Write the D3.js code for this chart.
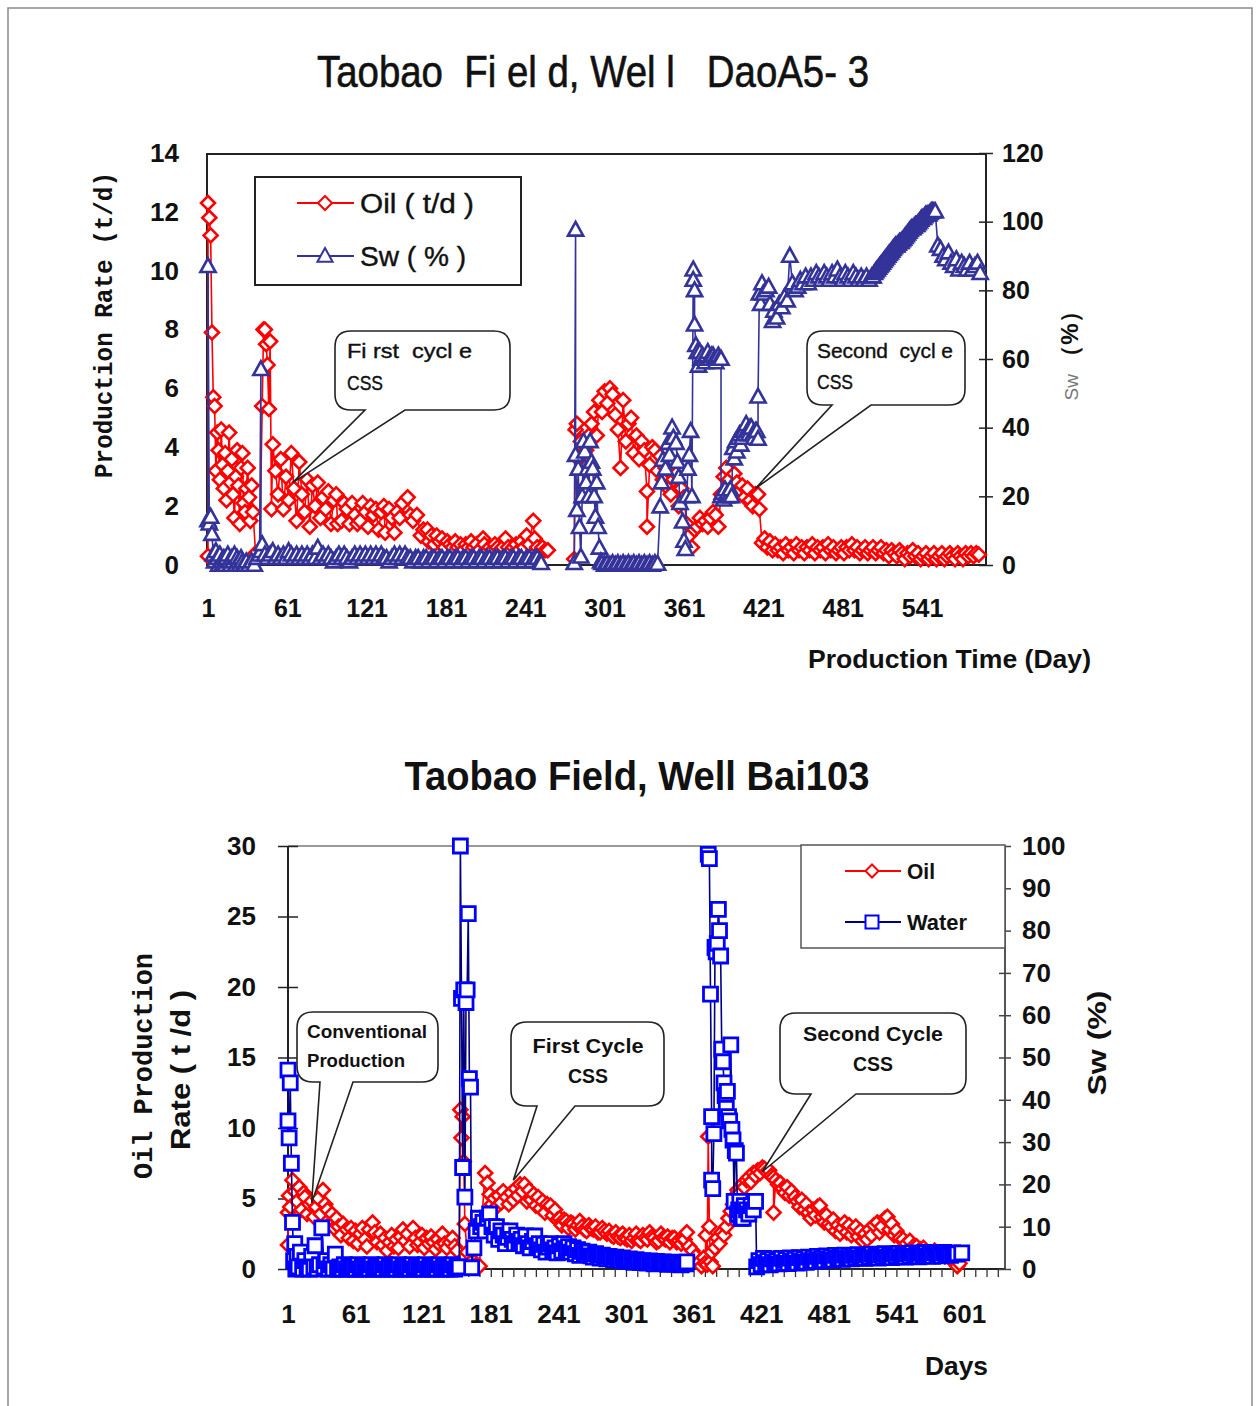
<!DOCTYPE html>
<html>
<head>
<meta charset="utf-8">
<script src="https://cdn.jsdelivr.net/npm/d3@7/dist/d3.min.js"></script>
<style>
  body { margin: 0; background: #fff; }
  svg text { font-family: "Liberation Sans", Arial, sans-serif; white-space: pre; }
</style>
</head>
<body>
<div id="chart"></div>
<script>
// ---------------- data: Well DaoA5-3 (top) ----------------
// [day, oil t/d]
var daoOil = [[1,0.3],[1,12.3],[2,11.8],[3,11.2],[4,7.9],[5,5.7],[6,5.4],[7,3.2],[8,4.5],[9,3.9],[10,2.9],[11,4.6],[12,3.4],[13,2.6],[14,3.8],[15,2.2],[16,3.2],[17,4.5],[18,2.8],[19,3.6],[20,2.4],[21,1.6],[22,3.0],[23,3.9],[24,2.7],[25,1.4],[26,3.3],[27,3.8],[28,2.1],[29,1.8],[30,2.6],[31,3.3],[32,2.3],[33,1.5],[34,2.7],[35,1.8],[37,0.4],[40,0.3],
  [42,5.4],[43,8.0],[44,8.0],[45,7.5],[46,6.8],[47,5.3],[48,7.6],[49,1.9],[50,4.1],[52,3.2],[54,2.4],[56,3.6],[58,1.9],[60,3.0],[62,2.2],[64,3.8],[66,2.6],[68,1.5],[70,3.5],[72,2.4],[74,1.8],[76,2.9],[78,1.3],[80,2.7],[82,2.0],[84,2.8],[86,1.6],[88,2.3],[90,1.9],[92,2.5],[94,1.4],[96,2.2],[98,2.4],[99,1.4],[102,1.5],[104,2.1],[106,1.9],[108,1.4],[110,2.1],[112,1.7],[114,1.4],[116,1.5],[118,2.1],[120,1.8],[122,1.3],[124,2.0],[126,1.7],[128,1.9],[130,1.2],[132,1.8],[134,2.0],[135,1.1],[138,1.9],[140,1.6],[142,1.1],[144,1.8],[146,1.6],[148,2.1],[152,2.3],[154,1.7],[156,1.5],[159,1.7],[162,1.0],[164,1.2],[167,1.2],[168,0.8],[170,1.0],[172,0.7],[174,1.0],[176,0.8],[178,0.9],[180,0.6],[182,0.8],[184,0.7],[186,0.6],[188,0.8],[190,0.6],[192,0.7],[194,0.5],[196,0.7],[198,0.6],[200,0.8],[202,0.6],[204,0.7],[206,0.5],[209,0.9],[210,0.7],[212,0.5],[214,0.6],[216,0.5],[218,0.7],[220,0.6],[222,0.5],[224,0.6],[226,0.9],[228,0.6],[230,0.5],[232,0.6],[234,0.7],[236,0.5],[238,0.8],[240,0.6],[242,1.0],[244,0.7],[247,1.5],[248,0.9],[250,0.6],[252,0.4],[254,0.6],[256,0.5],[258,0.5],[268,null],
  [278,0.2],[279,4.6],[280,4.8],[281,3.6],[283,4.2],[285,2.6],[287,3.9],[289,4.4],[291,4.8],[293,5.2],[295,4.4],[297,5.6],[299,5.2],[301,5.9],[303,5.5],[305,6.0],[307,5.8],[309,5.1],[311,4.6],[313,3.3],[315,5.6],[317,4.2],[319,4.8],[321,5.0],[323,3.8],[325,4.4],[327,3.6],[329,4.2],[331,3.9],[333,2.5],[333,1.3],[335,3.4],[337,4.0],[339,3.9],[341,3.2],[343,3.7],[345,2.9],[347,3.3],[349,2.6],[351,2.4],[353,2.9],[355,3.1],[357,2.0],[359,2.6],[361,2.3],[363,1.4],[365,1.0],[367,0.6],[369,1.2],[371,1.3],[373,1.6],[375,1.4],[377,1.5],[379,1.3],[381,1.6],[383,1.8],[385,1.7],[387,1.3],[389,2.4],[391,3.0],[393,3.3],[395,2.9],[397,2.6],[399,3.1],[401,2.8],[403,2.5],[405,2.7],[407,2.3],[409,2.6],[411,2.2],[413,2.0],[415,2.4],[417,2.4],[418,1.9],
  [420,0.75],[422,0.9],[424,0.6],[426,0.8],[428,0.5],[430,0.7],[432,0.5],[434,0.6],[436,0.4],[438,0.7],[440,0.5],[442,0.6],[444,0.4],[446,0.7],[448,0.5],[450,0.6],[452,0.4],[454,0.6],[456,0.5],[458,0.7],[460,0.4],[462,0.6],[464,0.5],[466,0.6],[468,0.4],[470,0.7],[472,0.5],[474,0.6],[476,0.4],[478,0.5],[480,0.6],[482,0.4],[484,0.6],[486,0.5],[488,0.7],[490,0.5],[492,0.6],[494,0.4],[496,0.5],[498,0.6],[500,0.4],[502,0.5],[504,0.6],[506,0.4],[508,0.5],[510,0.6],[512,0.4],[514,0.5],[516,0.3],[518,0.5],[520,0.4],[522,0.3],[524,0.5],[526,0.4],[528,0.2],[530,0.4],[532,0.3],[534,0.5],[536,0.3],[538,0.4],[540,0.2],[542,0.3],[544,0.4],[546,0.2],[548,0.3],[550,0.4],[552,0.2],[554,0.3],[556,0.4],[558,0.2],[560,0.3],[562,0.4],[564,0.3],[566,0.2],[568,0.4],[570,0.3],[572,0.2],[574,0.4],[576,0.3],[578,0.4],[580,0.3],[582,0.4],[584,0.35]];

// [day, Sw %]
var daoSw = [[1,13],[1,87],[2,12],[3,14],[4,9],[5,3],[6,1],[7,4],[8,2],[9,0],[10,3],[11,1],[12,0],[13,2],[14,0],[15,2],[16,3],[17,1],[18,0],[19,2],[20,1],[21,3],[22,0],[23,2],[24,1],[25,0],[26,2],[27,1],[28,0],[29,0],[30,1],[32,0],[34,1],[36,0],[38,2],[40,3],[41,57],[41,4],
  [42,6],[44,3],[46,2],[48,3],[50,4],[52,2],[54,3],[56,2],[58,3],[60,2],[62,4],[64,3],[66,2],[68,3],[70,2],[72,3],[74,2],[76,3],[78,2],[80,3],[82,2],[84,5],[86,2],[88,3],[90,2],[92,3],[94,2],[96,1],[98,2],[100,3],[102,2],[104,3],[106,2],[108,1],[110,2],[112,3],[114,2],[116,3],[118,2],[120,3],[122,2],[124,3],[126,2],[128,3],[130,2],[132,3],[134,2],[136,2],[138,1],[140,2],[142,3],[144,2],[146,3],[148,2],[150,3],[152,2],[154,2],[156,1],[158,2],[160,2],[162,1],[164,2],[166,2],[168,1],[170,2],[172,2],[174,1],[176,2],[178,2],[180,1],[182,2],[184,2],[186,1],[188,2],[190,2],[192,1],[194,2],[196,2],[198,1],[200,2],[202,2],[204,1],[206,2],[208,2],[210,1],[212,2],[214,2],[216,1],[218,2],[220,2],[222,1],[224,2],[226,2],[228,1],[230,2],[232,2],[234,1],[236,2],[238,2],[240,1],[242,2],[244,2],[246,1],[248,2],[250,2],[252,1],[253,0.5],[266,null],
  [278,0.5],[279,97.6],[279,32],[280,16],[281,28],[282,11],[283,2.4],[284,20],[285,36],[286,33],[287,24],[288,28],[289,20],[290,36],[291,30],[292,28],[293,20],[294,14],[295,24],[296,11],[297,5],[298,1],[299,0.5],[301,0],[303,0.5],[305,0],[307,0.5],[309,0],[311,0.5],[313,0],[315,0.5],[317,0],[319,0.5],[321,0],[323,0.5],[325,0],[327,0.5],[329,0],[331,0.5],[333,0],[335,0.5],[337,0],[339,0.5],[341,0.3],[343,17],[344,24],[345,30.6],[347,28],[349,35.5],[350,32],[352,40],[353,37],[355,35.5],[356,30],[357,25.6],[358,18],[360,12.6],[361,7],[362,4.6],[363,20],[364,28],[365,32],[366,39],[367,20],[368,86],[368,83],[369,80],[369,70],[370,64],[371,62],[372,58],[373,62],[374,60],[375,61],[376,60],[377,59],[378,61],[379,62],[380,60],[381,60],[382,61],[383,61],[384,60],[385,59],[386,60],[387,61],[388,60],[389,60],[389,20],[390,21],[391,19],[392,22],[393,20],[394,21],[395,20],[396,22],[397,20],[398,34],[399,31],[400,36],[401,33],[402,37],[403,38],[404,35],[405,37],[406,39],[407,38],[408,41],[409,39],[410,38],[411,40],[412,40],[413,38],[414,37],[415,39],[416,39],[417,36.7],[417,49],[418,79],[419,76],[420,82],[421,79],[423,80],[425,81],[426,76],[428,71],[429,74],[431,72],[433,76],[435,75],[437,78],[439,77],[441,90],[443,82],[445,80],[447,81],[449,83],[451,82],[453,84],[455,82],[457,84],[459,83],[461,85],[463,84],[465,83],[467,85],[469,84],[471,83],[473,85],[475,84],[477,86],[479,84],[481,83],[483,85],[485,84],[487,83],[489,85],[491,84],[493,83],[495,84],[497,83],[499,84],[501,83],[503,84],[504,84],[505,85],[506,85.5],[507,86],[508,86.5],[509,87],[510,87.5],[511,88],[512,88.5],[513,89],[514,89.5],[515,90],[516,90.5],[517,91],[518,91.5],[519,92],[520,92.5],[521,93],[522,93],[523,93.5],[524,94],[525,94],[526,94.5],[527,95],[528,95.5],[529,96],[530,96.5],[531,97],[532,97.5],[533,98],[534,98],[535,98.5],[536,99],[537,99],[538,99.5],[539,100],[540,100.5],[541,101],[542,101],[543,101.5],[544,102],[545,102],[546,102],[547,102.5],[548,103],[549,103],[550,103],[551,103],[553,93],[555,92],[557,90],[559,89],[561,91],[563,88],[565,87],[567,89],[569,86],[571,88],[573,87],[575,86],[577,88],[579,86],[581,87],[583,88],[585,85]];

var daoDayTicks = [1, 61, 121, 181, 241, 301, 361, 421, 481, 541];
var daoOilTicks = [0, 2, 4, 6, 8, 10, 12, 14];
var daoSwTicks = [0, 20, 40, 60, 80, 100, 120];

// ---------------- data: Well Bai103 (bottom) ----------------
// [day, oil t/d]
var baiOil = [[1,1.7],[1,4.0],[2,5.2],[3,4.4],[5,6.3],[7,5.5],[9,4.8],[11,5.8],[13,4.2],[15,5.4],[16,5.1],[18,3.9],[20,4.6],[22,4.8],[24,3.7],[26,4.4],[28,5.0],[30,3.9],[32,5.6],[34,4.6],[36,4.2],[38,3.2],[40,3.9],[42,2.9],[44,3.6],[46,3.0],[48,2.4],[50,3.2],[53,2.8],[55,2.2],[57,2.9],[59,2.0],[61,2.7],[63,1.8],[65,2.5],[67,2.9],[69,2.1],[71,1.6],[73,2.8],[76,3.3],[78,2.6],[80,1.9],[83,2.5],[85,1.7],[87,2.2],[89,1.3],[91,1.9],[93,2.4],[95,1.6],[97,2.1],[99,1.5],[101,2.3],[103,2.8],[105,2.0],[107,2.5],[109,1.6],[112,2.9],[114,2.2],[116,1.7],[118,1.9],[120,2.4],[122,1.5],[124,2.2],[126,1.8],[128,2.3],[130,1.9],[132,1.4],[134,2.1],[136,1.7],[138,2.5],[140,1.8],[142,1.5],[145,1.9],[147,2.2],[149,1.6],[151,1.3],[153,0.1],[154,11.3],[155,9.3],[156,10.8],[157,7.6],[158,3.2],[160,1.2],[162,0.4],[165,0.6],[168,0.3],[171,0.2],[173,3.5],[176,6.8],[178,6.1],[180,5.3],[182,4.6],[184,5.0],[186,4.4],[188,5.2],[190,4.7],[192,5.5],[195,5.1],[197,4.6],[199,5.4],[201,4.9],[203,5.7],[205,5.2],[207,6.0],[209,5.5],[211,6.0],[213,4.8],[215,5.6],[217,4.9],[219,5.3],[221,4.5],[223,5.1],[225,4.3],[227,4.8],[229,4.0],[231,4.6],[234,4.5],[236,3.8],[238,4.2],[240,3.5],
  [242,3.6],[244,3.1],[246,3.5],[248,3.4],[250,2.9],[252,3.3],[254,3.2],[256,2.8],[258,3.1],[260,3.4],[262,3.0],[264,2.8],[266,2.7],[268,3.1],[270,2.9],[272,2.8],[274,3.0],[276,2.6],[278,2.6],[280,2.9],[282,2.7],[284,2.5],[286,2.7],[288,2.4],[290,2.3],[292,2.6],[294,2.3],[296,2.2],[298,2.5],[300,2.2],[302,2.1],[304,2.4],[306,2.0],[308,2.2],[310,2.5],[312,2.1],[314,2.0],[316,2.4],[318,2.2],[320,2.1],[322,2.6],[324,2.3],[326,2.2],[328,1.9],[330,2.0],[332,2.5],[334,2.2],[336,2.1],[338,2.3],[340,1.9],[342,2.2],[344,2.2],[346,1.9],[348,2.0],[350,1.8],[352,2.1],[353,2.1],[355,2.6],
  [357,1.6],[360,1.3],[363,0.9],[366,0.5],[368,0.2],[370,0.8],[371,0.4],[372,2.4],[373,0.3],[374,9.4],[375,3.0],[376,0.5],[377,1.2],[378,0.2],[380,1.5],[382,2.2],[384,1.8],[386,2.6],[388,2.4],[390,3.0],[392,3.6],[394,4.1],[396,4.6],[398,5.2],[400,5.6],[402,5.4],[404,6.0],[406,5.8],[408,6.3],[410,6.5],[412,6.2],[414,6.8],[416,6.6],[418,7.0],[420,6.8],[422,7.2],[424,7.1],[426,6.9],[428,7.0],[430,6.6],[432,6.5],[432,4.0],[434,6.3],[436,6.0],[438,6.1],[440,5.7],[442,5.4],[444,5.8],[446,5.2],[448,5.5],[451,5.1],[453,4.8],[455,4.4],[457,4.9],[459,4.2],[461,4.6],[463,4.0],[465,3.6],[467,4.2],[469,3.8],[471,4.4],[473,4.5],[475,3.7],[477,3.3],[479,3.8],[481,3.2],[483,3.0],[485,3.5],[487,2.7],[489,3.1],[491,2.5],[493,2.9],[495,3.3],[497,2.6],[499,3.1],[501,2.4],[503,2.8],[505,3.0],[507,2.3],[509,2.7],[511,2.0],[513,2.5],[515,2.1],[517,2.8],[519,2.4],[521,3.1],[524,3.3],[526,2.6],[528,3.0],[531,3.6],[533,3.7],[535,2.8],[537,3.2],[539,2.4],[541,2.7],[544,2.2],[547,2.1],[550,1.8],[553,2.0],[556,1.6],[559,1.6],[562,1.4],[565,1.5],[568,1.2],[572,1.1],[575,1.3],[578,1.0],[581,1.1],[584,0.9],[588,0.8],[591,0.6],[595,0.2],[597,0.4]];

// [day, Sw %]
var baiWater = [[1,47],[1,35],[2,31],[3,44],[4,25],[5,11],[6,2],[7,6],[8,0],[9,3],[10,0.5],[12,4],[14,0],[16,2],[18,0.5],[20,0],[22,3],[24,0.5],[25,5.5],[27,0],[29,1],[31,9.7],[33,0.5],[35,2],[37,0],[39,1],[41,0],[43,3.5],
  [45,0],[47,0.5],[49,0],[51,1],[53,0],[55,0.5],[57,0],[59,0.5],[61,0],[63,1],[65,0],[67,0.5],[69,0],[71,0.5],[73,0],[75,1],[77,0],[79,0.5],[81,0],[83,0.5],[85,0],[87,1],[89,0],[91,0.5],[93,0],[95,0.5],[97,0],[99,1],[101,0],[103,0.5],[105,0],[107,0.5],[109,0],[111,1],[113,0],[115,0.5],[117,0],[119,0.5],[121,0],[123,1],[125,0],[127,0.5],[129,0],[131,0.5],[133,0],[135,1],[137,0],[139,0.5],[141,0],[143,0.5],[145,0],[147,1],[149,0],[151,0.5],[153,0.5],
  [154,100],[155,64],[156,24],[157,66],[158,17],[159,63],[160,66],[161,84],[162,45],[163,43],[164,0.3],[166,5],[168,9],[170,12],[172,10],[174,11],[176,9],[178,12],[180,13],[182,10],[184,8],[186,10],[188,7],[190,9],[192,8],[194,6],[196,7.5],[198,9],[200,7],[202,6],[204,8],[206,6.5],[208,7],[210,5.5],[212,7.8],[214,6],[216,5],[218,6.5],[220,7.8],[222,5.5],[224,6],[226,4.5],[228,5.8],[230,4],[232,5.2],[234,6],[236,4.5],[238,5],[240,3.8],[242,5.5],[244,4.2],[246,6],[248,4.8],[250,5.3],[252,4],[254,5],
  [256,3.6],[258,4.6],[260,3.2],[262,4.2],[264,3.6],[266,3.4],[268,4],[270,3.1],[272,2.8],[274,3.6],[276,3.0],[278,2.6],[280,3.3],[282,2.8],[284,2.4],[286,3],[288,2.5],[290,2.2],[292,2.8],[294,2.3],[296,2],[298,2.6],[300,2.1],[302,1.8],[304,2.4],[306,1.9],[308,1.6],[310,2.2],[312,1.8],[314,1.5],[316,2],[318,1.6],[320,1.4],[322,1.9],[324,1.5],[326,1.2],[328,1.8],[330,1.4],[332,1.3],[334,1.7],[336,1.3],[338,1.1],[340,1.6],[342,1.2],[344,1.2],[346,1.5],[348,1.1],[350,1],[352,1.4],[354,1.2],[355,1.7],[364,null],
  [374,98],[375,97],[376,65],[377,36],[377,21],[378,19],[379,32],[380,76],[381,75],[382,77],[383,85],[384,80],[385,74],[386,52],[387,49],[388,44],[389,41],[390,38],[391,42],[392,36],[393,35],[394,53],[395,33],[396,30.5],[397,16],[398,28],[399,27.4],[400,13],[401,14],[402,16],[403,12],[404,14],[405,12],[406,15],[408,14],[410,13],[412,15],[414,14],[416,16],[417,0.5],[419,2],[421,1],[423,2.5],[425,1.5],[427,2],[429,1],[431,2.4],[433,1.6],[435,2],[437,1.2],[439,2.5],[441,1.5],[443,2.2],[445,1.3],[447,2.6],[449,1.8],[451,2.3],[453,1.4],[455,2.7],[457,1.9],[459,2.4],[461,1.6],[463,2.8],[465,2],[467,2.5],[469,1.8],[471,3],[473,2.2],[475,2.6],[477,2],[479,3.1],[481,2.4],[483,2.8],[485,2.1],[487,3.2],[489,2.5],[491,2.9],[493,2.3],[495,3.3],[497,2.6],[499,3],[501,2.4],[503,3.2],[505,2.7],[507,3.4],[509,2.6],[511,3],[513,2.5],[515,3.3],[517,2.8],[519,3.5],[521,2.7],[523,3.1],[525,2.6],[527,3.4],[529,2.9],[531,3.6],[533,2.8],[535,3.2],[537,2.7],[539,3.5],[541,3],[543,3.7],[545,2.9],[547,3.3],[549,2.8],[551,3.6],[553,3.1],[555,3.8],[557,3],[559,3.4],[561,2.9],[563,3.7],[565,3.2],[567,3.9],[569,3.1],[571,3.5],[573,3],[575,3.8],[577,3.3],[579,3.6],[581,3.1],[583,3.9],[585,3.4],[587,3.7],[589,3.2],[591,3.8],[593,3.5],[595,3.6],[599,3.8]];

var baiDayTicks = [1, 61, 121, 181, 241, 301, 361, 421, 481, 541, 601];
var baiOilTicks = [0, 5, 10, 15, 20, 25, 30];
var baiSwTicks = [0, 10, 20, 30, 40, 50, 60, 70, 80, 90, 100];

// ---------------- page ----------------
var svg = d3.select("#chart")
  .append("svg")
    .attr("width", 1260)
    .attr("height", 1406);

// outer frame
svg.append("rect")
  .attr("x", 8).attr("y", 8).attr("width", 1244).attr("height", 1420)
  .attr("fill", "none").attr("stroke", "#8a8a8a").attr("stroke-width", 1.5);

// marker shapes
function diamond(r) { return "M0," + (-r) + "L" + r + ",0L0," + r + "L" + (-r) + ",0Z"; }
function triangle(r) { return "M0," + (-r) + "L" + (r * 0.95) + "," + (r * 0.72) + "L" + (-r * 0.95) + "," + (r * 0.72) + "Z"; }
function square(r) { return "M" + (-r) + "," + (-r) + "H" + r + "V" + r + "H" + (-r) + "Z"; }

function drawSeries(g, data, x, y, lineColor, markColor, shape, lw, mw) {
  var line = d3.line()
    .defined(function(d) { return d[1] != null; })
    .x(function(d) { return x(d[0]); })
    .y(function(d) { return y(d[1]); });
  g.append("path")
    .datum(data)
    .attr("d", line)
    .attr("fill", "none")
    .attr("stroke", lineColor)
    .attr("stroke-width", lw)
    .attr("stroke-linejoin", "round");
  g.append("g")
    .selectAll("path")
    .data(data.filter(function(d) { return d[1] != null; }))
    .enter()
    .append("path")
      .attr("d", shape)
      .attr("transform", function(d) { return "translate(" + x(d[0]) + "," + y(d[1]) + ")"; })
      .attr("fill", "#fff")
      .attr("stroke", markColor)
      .attr("stroke-width", mw);
}

// callout with a wedge pointing at a data point
function callout(g, box, baseL, baseR, tip) {
  var x0 = box[0], y0 = box[1], x1 = box[2], y1 = box[3], r = 16;
  var p = "M" + (x0 + r) + "," + y0 + "H" + (x1 - r) + "Q" + x1 + "," + y0 + " " + x1 + "," + (y0 + r) +
    "V" + (y1 - r) + "Q" + x1 + "," + y1 + " " + (x1 - r) + "," + y1 +
    "H" + baseR + "L" + tip[0] + "," + tip[1] + "L" + baseL + "," + y1 +
    "H" + (x0 + r) + "Q" + x0 + "," + y1 + " " + x0 + "," + (y1 - r) +
    "V" + (y0 + r) + "Q" + x0 + "," + y0 + " " + (x0 + r) + "," + y0 + "Z";
  g.append("path").attr("d", p)
    .attr("fill", "#fff").attr("stroke", "#222").attr("stroke-width", 1.6);
}

function label(g, txt, x, y, size, weight, len, anchor, rot, family, fill) {
  var t = g.append("text")
    .attr("x", x).attr("y", y)
    .attr("font-size", size)
    .attr("font-weight", weight)
    .attr("text-anchor", anchor || "start")
    .attr("fill", fill || "#111")
    .text(txt);
  if (family) t.style("font-family", family);
  if (len) t.attr("textLength", len).attr("lengthAdjust", "spacingAndGlyphs");
  if (rot) t.attr("transform", "rotate(" + rot + "," + x + "," + y + ")");
  return t;
}

function styleAxisText(ax, size) {
  ax.select(".domain").remove();
  ax.selectAll("text")
    .attr("font-size", size)
    .attr("font-weight", "bold")
    .attr("fill", "#111")
    .style("font-family", "'Liberation Sans', Arial, sans-serif");
}

// =================== TOP: DaoA5-3 ===================
var daoG = svg.append("g");
var tx = d3.scaleLinear().domain([1, 541]).range([208, 922]);
var tyOil = d3.scaleLinear().domain([0, 14]).range([565, 153]);
var tySw = d3.scaleLinear().domain([0, 120]).range([565, 153]);

label(daoG, "Taobao  Fi el d, Wel l   DaoA5- 3", 593, 87, 44, "normal", 552, "middle")
  .attr("stroke", "#111").attr("stroke-width", 0.6);

// frame
daoG.append("rect")
  .attr("x", 207).attr("y", 154).attr("width", 779).attr("height", 411)
  .attr("fill", "none").attr("stroke", "#222").attr("stroke-width", 2);

// left axis labels
var tLeft = daoG.append("g").attr("transform", "translate(207,0)")
  .call(d3.axisLeft(tyOil).tickValues(daoOilTicks).tickSize(0).tickPadding(28));
styleAxisText(tLeft, 26);

// right axis with crossing ticks
var tRight = daoG.append("g").attr("transform", "translate(986,0)")
  .call(d3.axisRight(tySw).tickValues(daoSwTicks).tickSize(7).tickPadding(9));
styleAxisText(tRight, 25);
tRight.selectAll(".tick line").attr("x1", -7).attr("stroke", "#222").attr("stroke-width", 1.5);

// bottom labels
var tBottom = daoG.append("g").attr("transform", "translate(0,565)")
  .call(d3.axisBottom(tx).tickValues(daoDayTicks).tickSize(0).tickPadding(34));
styleAxisText(tBottom, 25);

// series
drawSeries(daoG.append("g"), daoOil, tx, tyOil, "#ff0000", "#ff0000", diamond(7), 1.6, 2.6);
drawSeries(daoG.append("g"), daoSw, tx, tySw, "#333399", "#333399", triangle(8), 1.6, 2.6);

// axis titles
label(daoG, "Production Rate (t/d)", 112, 325, 26, "bold", 306, "middle", -90, "'Liberation Mono', 'Courier New', monospace");
var swLab = daoG.append("text")
  .attr("x", 1078).attr("y", 350)
  .attr("text-anchor", "middle")
  .attr("transform", "rotate(-90,1078,350)");
swLab.append("tspan").attr("font-size", 19).attr("fill", "#777").text("Sw ");
swLab.append("tspan").attr("font-size", 24).attr("font-weight", "bold").attr("fill", "#111").text("（%）");
label(daoG, "Production Time (Day)", 808, 668, 26, "bold", 283, "start");

// legend
daoG.append("rect")
  .attr("x", 255).attr("y", 177).attr("width", 266).attr("height", 108)
  .attr("fill", "#fff").attr("stroke", "#222").attr("stroke-width", 2);
var tLeg = [
  {name: "Oil ( t/d )", y: 203, color: "#ff0000", shape: diamond(7), len: 114},
  {name: "Sw ( % )", y: 256, color: "#333399", shape: triangle(8), len: 106}
];
tLeg.forEach(function(d) {
  daoG.append("line").attr("x1", 297).attr("x2", 354).attr("y1", d.y).attr("y2", d.y)
    .attr("stroke", d.color).attr("stroke-width", 2);
  daoG.append("path").attr("d", d.shape).attr("transform", "translate(325," + d.y + ")")
    .attr("fill", "#fff").attr("stroke", d.color).attr("stroke-width", 2);
  label(daoG, d.name, 360, d.y + 10, 27, "normal", d.len, "start")
    .attr("stroke", "#111").attr("stroke-width", 0.4);
});

// callouts
callout(daoG, [335, 331, 510, 410], 365, 405, [tx(65), tyOil(2.8)]);
label(daoG, "Fi rst  cycl e", 347, 358, 21, "normal", 125, "start").attr("stroke", "#111").attr("stroke-width", 0.4);
label(daoG, "CSS", 347, 390, 21, "normal", 36, "start").attr("stroke", "#111").attr("stroke-width", 0.4);
callout(daoG, [807, 331, 965, 405], 832, 871, [tx(415), tyOil(2.6)]);
label(daoG, "Second  cycl e", 817, 358, 21, "normal", 136, "start").attr("stroke", "#111").attr("stroke-width", 0.4);
label(daoG, "CSS", 817, 389, 21, "normal", 36, "start").attr("stroke", "#111").attr("stroke-width", 0.4);

// =================== BOTTOM: Bai103 ===================
var baiG = svg.append("g");
var bx = d3.scaleLinear().domain([1, 601]).range([288, 964]);
var byOil = d3.scaleLinear().domain([0, 30]).range([1269, 846]);
var bySw = d3.scaleLinear().domain([0, 100]).range([1269, 846]);

label(baiG, "Taobao Field, Well Bai103", 637, 790, 40, "bold", 465, "middle");

// frame: top and right in grey, left and bottom black
baiG.append("line").attr("x1", 288).attr("x2", 1005).attr("y1", 846).attr("y2", 846)
  .attr("stroke", "#777").attr("stroke-width", 1.5);
baiG.append("line").attr("x1", 1005).attr("x2", 1005).attr("y1", 846).attr("y2", 1269)
  .attr("stroke", "#555").attr("stroke-width", 2);
baiG.append("line").attr("x1", 288).attr("x2", 288).attr("y1", 846).attr("y2", 1269)
  .attr("stroke", "#222").attr("stroke-width", 2);
baiG.append("line").attr("x1", 288).attr("x2", 1005).attr("y1", 1269).attr("y2", 1269)
  .attr("stroke", "#222").attr("stroke-width", 2);

// left axis, crossing ticks
var bLeft = baiG.append("g").attr("transform", "translate(288,0)")
  .call(d3.axisLeft(byOil).tickValues(baiOilTicks).tickSize(10).tickPadding(22));
styleAxisText(bLeft, 26);
bLeft.selectAll(".tick line").attr("x1", 10).attr("stroke", "#222").attr("stroke-width", 1.5);

// right axis
var bRight = baiG.append("g").attr("transform", "translate(1005,0)")
  .call(d3.axisRight(bySw).tickValues(baiSwTicks).tickSize(6).tickPadding(11));
styleAxisText(bRight, 26);
bRight.selectAll(".tick line").attr("x1", -6).attr("stroke", "#444").attr("stroke-width", 1.5);

// bottom minor ticks every 10 days, then labels
var bTicks = baiG.append("g").attr("transform", "translate(0,1269)")
  .call(d3.axisBottom(bx).tickValues(d3.range(1, 632, 10)).tickSize(8).tickFormat(""));
bTicks.select(".domain").remove();
bTicks.selectAll(".tick line").attr("stroke", "#333").attr("stroke-width", 1.3);
var bBottom = baiG.append("g").attr("transform", "translate(0,1269)")
  .call(d3.axisBottom(bx).tickValues(baiDayTicks).tickSize(0).tickPadding(36));
styleAxisText(bBottom, 26);

// series
drawSeries(baiG.append("g"), baiOil, bx, byOil, "#ff0000", "#ff0000", diamond(7), 1.6, 2.6);
drawSeries(baiG.append("g"), baiWater, bx, bySw, "#000080", "#0000ff", square(7), 1.6, 2.8);

// axis titles
label(baiG, "Oil Production", 152, 1066, 27, "bold", 226, "middle", -90, "'Liberation Mono', 'Courier New', monospace");
label(baiG, "Rate ( t /d )", 190, 1070, 27, "bold", 160, "middle", -90);
label(baiG, "Sw (%)", 1106, 1043, 26, "bold", 105, "middle", -90);
label(baiG, "Days", 925, 1375, 26, "bold", 63, "start");

// legend
baiG.append("rect")
  .attr("x", 801).attr("y", 845).attr("width", 204).attr("height", 103)
  .attr("fill", "#fff").attr("stroke", "#555").attr("stroke-width", 1.5);
var bLeg = [
  {name: "Oil", y: 871, line: "#ff0000", mark: "#ff0000", shape: diamond(6.5), len: 28},
  {name: "Water", y: 922, line: "#000080", mark: "#0000ff", shape: square(6.5), len: 60}
];
bLeg.forEach(function(d) {
  baiG.append("line").attr("x1", 845).attr("x2", 901).attr("y1", d.y).attr("y2", d.y)
    .attr("stroke", d.line).attr("stroke-width", 2);
  baiG.append("path").attr("d", d.shape).attr("transform", "translate(872," + d.y + ")")
    .attr("fill", "#fff").attr("stroke", d.mark).attr("stroke-width", 2);
  label(baiG, d.name, 907, d.y + 8, 22, "bold", d.len, "start");
});

// callouts
callout(baiG, [297, 1012, 438, 1082], 320, 353, [bx(22), byOil(4.7)]);
label(baiG, "Conventional", 307, 1038, 19, "bold", 120, "start");
label(baiG, "Production", 307, 1067, 19, "bold", 98, "start");
callout(baiG, [511, 1022, 664, 1106], 537, 575, [bx(201), byOil(6.3)]);
label(baiG, "First Cycle", 588, 1053, 21, "bold", 111, "middle");
label(baiG, "CSS", 588, 1083, 21, "bold", 40, "middle");
callout(baiG, [780, 1013, 966, 1094], 811, 856, [bx(422), byOil(6.9)]);
label(baiG, "Second Cycle", 873, 1041, 21, "bold", 140, "middle");
label(baiG, "CSS", 873, 1071, 21, "bold", 40, "middle");
</script>
</body>
</html>
